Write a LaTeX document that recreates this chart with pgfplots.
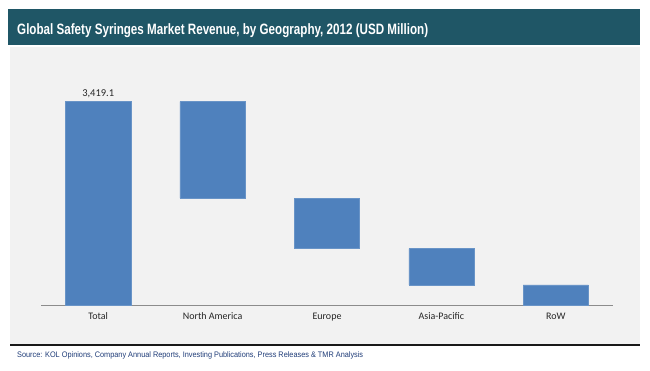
\documentclass[border=0pt]{standalone}
\usepackage{pgfplots}
\pgfplotsset{compat=1.18}
\usepackage{fontspec}
\setmainfont{Carlito}
\newfontfamily\arial{Liberation Sans}
\definecolor{titlebar}{HTML}{1F5666}
\definecolor{panel}{HTML}{F2F2F2}
\definecolor{barblue}{HTML}{4F81BD}
\definecolor{srcblue}{HTML}{1F3C78}
\begin{document}
\begin{tikzpicture}
\fill[white] (0bp,0bp) rectangle (650bp,371bp);
\fill[titlebar] (8bp,326bp) rectangle (640bp,362bp);
\fill[panel] (10bp,27bp) rectangle (640bp,324bp);
\draw[black!90, line width=2bp] (10bp,26bp) -- (640bp,26bp);
\node[anchor=west, inner sep=0pt, text=white] at (17bp,340bp)
  {\resizebox{411bp}{\height}{\arial\fontsize{15bp}{18bp}\selectfont\bfseries Global Safety Syringes Market Revenue, by Geography, 2012 (USD Million)}};
\node[anchor=west, inner sep=0pt, text=srcblue] at (17bp,16bp)
  {\resizebox{346bp}{\height}{\arial\fontsize{8bp}{10bp}\selectfont Source: KOL Opinions, Company Annual Reports, Investing Publications, Press Releases \& TMR Analysis}};
\begin{axis}[
  at={(41bp,66bp)}, anchor=south west,
  scale only axis, width=572bp, height=245bp,
  xmin=-0.5, xmax=4.5, ymin=0, ymax=4120,
  ybar stacked, bar width=0.57,
  axis y line=none,
  axis x line*=bottom,
  x axis line style={draw=black!45, line width=0.8bp, -},
  xtick={0,1,2,3,4},
  xticklabels={Total, North America, Europe, Asia-Pacific, RoW},
  xtick style={draw=none},
  x tick label style={font=\fontsize{10bp}{12bp}\selectfont, text=black!85, text height=7bp, text depth=2bp, yshift=-4bp},
  clip=false,
]
\addplot[draw=none, fill=none] coordinates {(0,0) (1,1799.1) (2,949.1) (3,337.1) (4,0)};
\addplot[fill=barblue, draw=barblue!85!white, line width=0.6bp] coordinates {(0,3419.1) (1,1620) (2,850) (3,612) (4,337.1)};
\node[anchor=south, font=\fontsize{10.5bp}{12bp}\selectfont, text=black!85, inner sep=0pt, yshift=4bp] at (axis cs:0,3419.1) {3,419.1};
\end{axis}
\end{tikzpicture}
\end{document}
